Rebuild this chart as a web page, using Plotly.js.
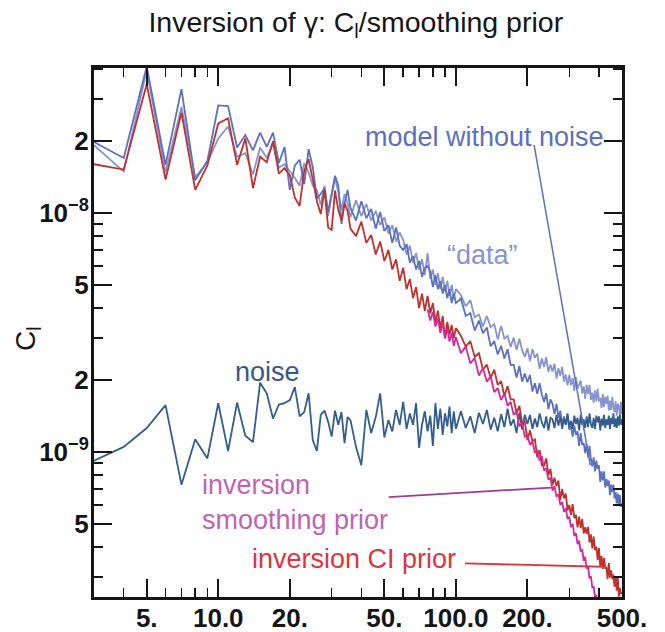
<!DOCTYPE html>
<html><head><meta charset="utf-8">
<script src="https://cdn.plot.ly/plotly-3.0.1.min.js"></script>
<style>html,body{margin:0;padding:0;background:#fff}#chart{width:665px;height:632px}</style>
</head><body><div id="chart"></div>
<script>
// multipole l
const ell = [3,4,5,6,7,8,9,10,11,12,13,14,15,16,17,18,19,20,21,22,23,24,25,26,27,28,29,30,31,32,33,34,35,36,
  38,40,42,44,46,48,50,52,54,56,58,60,62,64,66,68,70,72,74,76,78,80,82,84,86,88,90,92,94,96,98,100,
  105,110,115,120,125,130,135,140,145,150,155,160,165,170,175,180,185,190,195,200,
  205,210,215,220,225,230,235,240,245,250,255,260,265,270,275,280,285,290,295,300,
  305,310,315,320,325,330,335,340,345,350,355,360,365,370,375,380,385,390,395,400,
  405,410,415,420,425,430,435,440,445,450,455,460,465,470,475,480,485,490,495,500];

// all C_l values in units of 1e-9
const modelCl = [19.8,17.0,41.0,15.9,33.0,13.7,16.5,28.2,28.0,18.8,21.2,18.3,21.7,18.9,21.7,16.2,18.9,12.5,15.8,16.7,13.2,18.5,15.5,11.5,12.0,12.7,10.1,12.1,14.3,13.0,9.0,11.0,12.5,10.5,
  9.3,11.2,9.5,10.4,8.6,10.1,8.4,8.9,7.5,8.7,7.3,7.0,7.4,6.2,6.6,5.8,6.3,5.4,5.9,6.0,5.7,4.9,5.5,4.8,5.2,4.6,5.0,4.4,4.8,4.2,4.6,4.2,
  4.39,3.71,3.81,3.22,3.55,3.14,3.32,2.77,2.91,2.56,2.78,2.46,2.69,2.31,2.32,2.05,2.29,1.97,2.13,1.96,
  2.10,1.79,1.94,1.75,1.94,1.74,1.62,1.76,1.51,1.66,1.59,1.44,1.59,1.39,1.49,1.30,1.41,1.31,1.43,1.24,
  1.28,1.16,1.29,1.18,1.22,1.06,1.20,1.07,1.09,0.99,1.08,0.95,1.06,0.93,0.87,0.95,0.83,0.92,0.85,0.88,
  0.75,0.83,0.76,0.83,0.71,0.77,0.72,0.76,0.66,0.73,0.68,0.73,0.64,0.68,0.61,0.67,0.60,0.66,0.59,0.61];

const dataCl = [19.2,14.9,39.5,14.8,27.8,14.1,16.3,20.5,23.0,17.2,17.8,14.5,18.8,17.0,19.5,15.5,16.0,15.0,14.0,13.0,16.2,14.8,13.0,12.5,10.8,13.0,9.7,11.8,14.0,12.2,10.3,12.0,11.0,9.6,
  11.3,9.7,10.9,9.3,10.2,8.9,9.6,8.2,8.9,7.6,8.3,7.7,6.7,7.3,6.2,6.8,5.8,6.4,5.5,6.8,5.3,5.8,5.0,5.6,4.8,5.4,4.7,5.2,4.5,5.0,4.4,4.8,
  4.53,4.07,4.32,3.66,3.76,3.35,3.71,3.33,3.43,2.96,3.37,2.98,3.06,2.75,3.01,2.67,2.98,2.66,2.50,2.72,
  2.40,2.69,2.48,2.58,2.23,2.46,2.27,2.49,2.16,2.32,2.17,2.34,2.03,2.24,2.08,2.27,1.97,2.11,1.90,2.10,
  1.90,2.04,1.80,2.05,1.84,1.92,1.99,1.76,1.88,1.67,1.91,1.75,1.91,1.65,1.77,1.61,1.81,1.63,1.84,1.63,
  1.69,1.53,1.75,1.54,1.70,1.59,1.72,1.49,1.64,1.50,1.70,1.54,1.47,1.63,1.42,1.59,1.55,1.42,1.62,1.44];

const noiseCl = [0.92,1.05,1.26,1.57,0.73,1.13,0.94,1.60,1.01,1.61,1.17,1.10,1.95,1.76,1.38,1.58,1.60,1.65,1.87,1.41,1.47,1.76,1.12,1.01,1.43,1.49,1.34,1.16,1.49,1.30,1.47,1.09,1.40,1.36,
  1.05,0.88,1.50,1.20,1.40,1.76,1.15,1.36,1.22,1.50,1.30,1.62,1.25,1.45,1.30,1.60,1.04,1.30,1.48,1.22,1.42,1.06,1.60,1.25,1.52,1.18,1.45,1.28,1.55,1.20,1.48,1.25,
  1.48,1.26,1.41,1.20,1.46,1.31,1.50,1.24,1.39,1.22,1.44,1.27,1.52,1.29,1.37,1.20,1.46,1.24,1.43,1.31,
  1.43,1.25,1.38,1.27,1.45,1.33,1.26,1.41,1.23,1.39,1.37,1.26,1.43,1.29,1.41,1.25,1.38,1.30,1.45,1.27,
  1.35,1.25,1.42,1.31,1.39,1.23,1.43,1.30,1.37,1.26,1.41,1.27,1.45,1.31,1.26,1.39,1.25,1.42,1.33,1.41,
  1.23,1.38,1.29,1.43,1.26,1.37,1.30,1.42,1.25,1.39,1.31,1.45,1.27,1.38,1.26,1.41,1.29,1.43,1.30,1.37];

const invCIPrior = [16.0,15.2,34.6,13.8,26.3,12.5,15.8,23.7,24.9,15.9,20.5,12.7,17.2,16.3,20.0,14.6,15.4,14.4,11.6,10.7,15.0,16.8,13.8,11.2,9.9,12.5,8.7,8.5,12.4,10.3,9.3,11.0,10.2,8.6,
  8.0,9.2,7.5,8.1,6.7,7.6,6.3,7.0,5.8,6.4,5.2,5.9,4.8,5.3,4.4,4.9,4.0,4.6,3.9,4.5,3.8,4.2,3.5,3.9,3.3,3.7,3.0,3.5,3.1,3.4,3.0,3.3,
  3.06,2.76,2.91,2.50,2.59,2.21,2.32,2.04,2.21,1.91,1.98,1.71,1.89,1.66,1.66,1.46,1.56,1.32,1.34,1.12,
  1.23,1.11,1.13,0.95,1.02,0.88,0.88,0.94,0.80,0.85,0.73,0.78,0.72,0.76,0.63,0.70,0.64,0.67,0.57,0.60,
  0.546,0.605,0.529,0.546,0.484,0.536,0.48,0.524,0.456,0.484,0.455,0.486,0.418,0.452,0.395,0.443,0.388,0.402,0.353,0.396,
  0.331,0.368,0.324,0.360,0.327,0.328,0.294,0.343,0.298,0.320,0.294,0.307,0.273,0.302,0.263,0.297,0.248,0.270,0.255,0.258];

// smoothing-prior inversion, visible from l = 76 on
const smoothStartL = 76;
const invSmoothPrior = [3.95,3.55,3.85,3.35,3.62,3.15,3.45,2.98,3.30,2.90,3.15,2.78,3.02,
  2.59,2.76,2.35,2.47,2.09,2.24,1.97,2.07,1.78,1.85,1.65,1.76,1.56,1.62,1.43,1.47,1.28,1.32,1.16,1.18,
  1.07,1.11,0.99,1.02,0.92,0.96,0.835,0.855,0.766,0.78,0.69,0.72,0.65,0.666,0.60,0.618,0.562,0.582,0.524,0.536,
  0.485,0.50,0.446,0.458,0.412,0.426,0.383,0.391,0.350,0.364,0.325,0.330,0.296,0.302,0.270,0.274,0.247,0.252,0.228,0.232,
  0.209,0.205];

const xTickVals = [5,10,20,50,100,200,500];
const xTickText = ['5.','10.0','20.','50.','100.0','200.','500.'];
const xMinorVals = [4,6,7,8,9,30,40,60,70,80,90,300,400];
const yTickVals = [0.5,1,2,5,10,20];
const yTickText = ['5','10<sup>\u22129</sup>','2','5','10<sup>\u22128</sup>','2'];
const yMinorVals = [0.3,0.4,0.6,0.7,0.8,0.9,3,4,6,7,8,9,30,40];

const FONT = '"Liberation Sans", Arial, Helvetica, sans-serif';
const INK = '#151515';

function curve(x, y, color, w) {
  return {x: x, y: y, type: 'scatter', mode: 'lines', line: {color: color, width: w},
          hoverinfo: 'skip', showlegend: false};
}
const i0 = ell.indexOf(smoothStartL);
const ellSmooth = ell.slice(i0, i0 + invSmoothPrior.length);

const traces = [
  curve(ell, dataCl, '#8794d0', 1.8),
  curve(ell, modelCl, '#5b70c0', 1.8),
  curve(ell, noiseCl, '#335d8e', 1.8),
  curve(ell, invCIPrior, '#c1312b', 1.8),
  curve(ellSmooth, invSmoothPrior, '#d6289a', 1.8)
];

function axisBase() {
  return {
    type: 'log', ticks: 'inside', ticklen: 18, tickwidth: 2, tickcolor: INK,
    showline: true, linewidth: 3, linecolor: INK, mirror: 'allticks',
    showgrid: false, zeroline: false, automargin: false, fixedrange: true,
    tickfont: {family: FONT, size: 26, color: INK, weight: 'bold'}
  };
}
const xaxis = Object.assign(axisBase(), {
  range: [Math.log10(3), Math.log10(500)], tickmode: 'array', tickvals: xTickVals, ticktext: xTickText,
  ticklabelstandoff: -4,
  minor: {tickvals: xMinorVals, ticks: 'inside', ticklen: 9, tickwidth: 1.5, tickcolor: INK, showgrid: false}
});
const yaxis = Object.assign(axisBase(), {
  range: [-0.6067, 1.6067], tickmode: 'array', tickvals: yTickVals, ticktext: yTickText,
  ticklabelstandoff: -3,
  minor: {tickvals: yMinorVals, ticks: 'inside', ticklen: 9, tickwidth: 1.5, tickcolor: INK, showgrid: false}
});

function label(text, x, y, color, extra) {
  return Object.assign({text: text, x: x, y: y, xref: 'paper', yref: 'paper', showarrow: false,
    xanchor: 'center', yanchor: 'middle', font: {family: FONT, size: 27, color: color}}, extra || {});
}

const layout = {
  width: 665, height: 632,
  margin: {l: 94, r: 43, t: 68, b: 35, pad: 0},
  paper_bgcolor: '#fff', plot_bgcolor: '#fff', showlegend: false,
  title: {text: 'Inversion of \u03b3: C<sub>l</sub>/smoothing prior',
          font: {family: FONT, size: 28.5, color: INK}, x: 0.535, xanchor: 'center', y: 0.965, yanchor: 'middle'},
  xaxis: xaxis, yaxis: yaxis,
  shapes: [
    {type: 'line', xref: 'x', yref: 'y', x0: 213.3, y0: 19.26, x1: 367.6, y1: 0.882, line: {color: '#5b70c0', width: 1.5}},
    {type: 'line', xref: 'x', yref: 'y', x0: 52.2, y0: 0.648, x1: 251.6, y1: 0.71, line: {color: '#9b3c97', width: 1.8}},
    {type: 'line', xref: 'x', yref: 'y', x0: 109.1, y0: 0.342, x1: 411.9, y1: 0.331, line: {color: '#e0333d', width: 1.8}}
  ],
  annotations: [
    label('model without noise', 0.7405, 0.8696, '#5b70c0'),
    label('\u201cdata\u201d', 0.7367, 0.6465, '#8794d0'),
    label('noise', 0.3277, 0.4253, '#36598b'),
    label('inversion<br>smoothing prior', 0.2008, 0.1777, '#c163b2', {xanchor: 'left', align: 'left'}),
    label('inversion CI prior', 0.4924, 0.0718, '#e2333f'),
    label('C<sub>l</sub>', -0.1269, 0.4896, INK, {textangle: -90, font: {family: FONT, size: 28, color: INK}})
  ]
};

Plotly.newPlot('chart', traces, layout, {staticPlot: true, displayModeBar: false});
</script>
</body></html>
